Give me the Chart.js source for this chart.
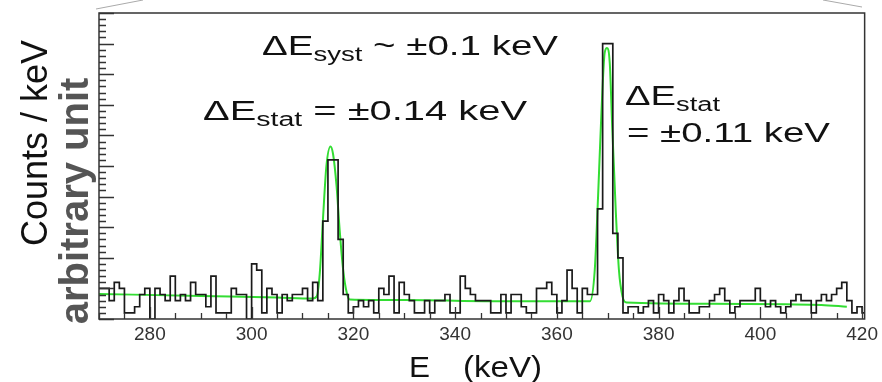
<!DOCTYPE html>
<html>
<head>
<meta charset="utf-8">
<script src="https://cdn.jsdelivr.net/npm/chart.js@4"></script>
<style>
  html, body { margin: 0; padding: 0; background: #fff; }
</style>
</head>
<body>
<canvas id="spectrum" width="882" height="382"></canvas>
<script>
// histogram, 1 keV bins starting at 270 keV
const binStart = 270;
const binWidth = 1;
const counts = [
    5, 5, 3, 6, 5, 1, 1, 2, 4, 5,
    0, 5, 4, 3, 7, 3, 4, 3, 6, 4,
    4, 2, 7, 1, 1, 1, 5, 4, 4, 0,
    9, 8, 1, 5, 4, 1, 4, 3, 4, 4,
    5, 3, 6, 3, 16, 26, 26, 13, 4, 1,
    2, 3, 2, 3, 1, 5, 4, 7, 1, 6,
    4, 3, 1, 1, 3, 1, 3, 3, 4, 1,
    1, 7, 5, 4, 3, 3, 3, 1, 1, 4,
    1, 4, 4, 2, 1, 1, 5, 5, 6, 4,
    1, 3, 8, 5, 1, 5, 4, 4, 18, 45,
    45, 14, 10, 1, 2, 2, 1, 2, 3, 1,
    4, 3, 1, 3, 5, 3, 1, 1, 2, 2,
    3, 4, 5, 3, 1, 2, 3, 3, 3, 5,
    3, 2, 3, 2, 1, 2, 3, 4, 3, 3,
    1, 3, 4, 3, 4, 5, 6, 3, 1, 2, 1
];

// fit curve (two gaussians on a sloping background)
const fitE = [270, 290, 305, 312, 312.8, 313.4, 314.07, 314.7, 315.5, 316.0, 316.7, 317.3, 318.0, 318.7, 319.3,
              330, 350, 366.5, 367.45, 368.1, 368.76, 369.4, 369.86, 370.4, 370.9, 371.6, 372.2, 372.9, 373.7,
              390, 405, 412, 417];
const fitY = [4.1, 3.75, 3.5, 3.35, 3.7, 7.5, 17, 25, 28.2, 27, 21.7, 14.6, 8, 4.3, 3.2,
              3.1, 2.9, 2.9, 8, 20, 33.7, 43.5, 44.3, 41.8, 31, 17.3, 8, 3.7, 2.7,
              2.5, 2.4, 2.3, 2.0];

const xTicks = [280, 300, 320, 340, 360, 380, 400, 420];
const xMinorStep = 5;
const yMajorStep = 5;
const yMinorStep = 1;

const FONT = '"Liberation Sans", Arial, sans-serif';

// text drawn with a horizontal stretch so it spans a given width
function drawStretched(ctx, parts, x, y, width) {
    ctx.save();
    let total = 0;
    parts.forEach(p => {
        ctx.font = p[1] + 'px ' + FONT;
        total += ctx.measureText(p[0]).width;
    });
    ctx.translate(x, y);
    ctx.scale(width / total, 1);
    let cx = 0;
    parts.forEach(p => {
        ctx.font = p[1] + 'px ' + FONT;
        ctx.fillText(p[0], cx, p[2] || 0);
        cx += ctx.measureText(p[0]).width;
    });
    ctx.restore();
}

const decorations = {
    id: 'decorations',
    afterDatasetsDraw(chart) {
        const ctx = chart.ctx;
        const area = chart.chartArea;
        const xs = chart.scales.x;
        const ys = chart.scales.y;

        ctx.save();
        // frame
        ctx.strokeStyle = '#333';
        ctx.lineWidth = 1.5;
        ctx.strokeRect(area.left, area.top, area.right - area.left, area.bottom - area.top);

        // y ticks, inside on the left
        ctx.lineWidth = 1.3;
        ctx.beginPath();
        for (let v = ys.min; v <= ys.max; v += yMinorStep) {
            const py = Math.round(ys.getPixelForValue(v)) + 0.5;
            const len = v % yMajorStep === 0 ? 15 : 7;
            ctx.moveTo(area.left, py);
            ctx.lineTo(area.left + len, py);
        }
        // x ticks, inside at the bottom
        for (let v = xTicks[0] - 10; v <= xs.max; v += xMinorStep) {
            if (v < xs.min) continue;
            const px = Math.round(xs.getPixelForValue(v)) + 0.5;
            const len = xTicks.includes(v) ? 12 : 6;
            ctx.moveTo(px, area.bottom);
            ctx.lineTo(px, area.bottom - len);
        }
        ctx.stroke();

        // slide zoom lines at the top corners
        ctx.strokeStyle = '#aaa';
        ctx.lineWidth = 1;
        ctx.beginPath();
        ctx.moveTo(96, 9);
        ctx.lineTo(143, 0);
        ctx.moveTo(823, 0);
        ctx.lineTo(862, 7);
        ctx.stroke();

        // annotations
        ctx.fillStyle = '#111';
        ctx.textBaseline = 'alphabetic';
        drawStretched(ctx, [['ΔE', 28], ['syst', 20, 6], [' ~ ±0.1 keV', 28]], 262, 55, 296);
        drawStretched(ctx, [['ΔE', 28], ['stat', 20, 6], [' = ±0.14 keV', 28]], 203, 120, 324);
        drawStretched(ctx, [['ΔE', 28], ['stat', 20, 6]], 625, 105, 95);
        drawStretched(ctx, [['= ±0.11 keV', 28]], 627, 142, 203);

        // x axis title
        drawStretched(ctx, [['E', 29]], 409, 377, 21);
        drawStretched(ctx, [['(keV)', 29]], 463, 377, 79);

        // y axis titles
        ctx.save();
        ctx.translate(47, 143);
        ctx.rotate(-Math.PI / 2);
        ctx.textAlign = 'center';
        ctx.font = '36px ' + FONT;
        ctx.fillStyle = '#111';
        ctx.fillText('Counts / keV', 0, 0);
        ctx.restore();

        ctx.save();
        ctx.translate(88, 201);
        ctx.rotate(-Math.PI / 2);
        ctx.textAlign = 'center';
        ctx.font = 'bold 40px ' + FONT;
        ctx.fillStyle = '#555';
        ctx.fillText('arbitrary unit', 0, 0);
        ctx.restore();

        ctx.restore();
    }
};

const histPoints = counts.map((c, i) => ({ x: binStart + i * binWidth, y: c }));
histPoints.push({ x: binStart + counts.length * binWidth, y: counts[counts.length - 1] });
const fitPoints = fitE.map((e, i) => ({ x: e, y: fitY[i] }));

new Chart(document.getElementById('spectrum'), {
    type: 'line',
    data: {
        datasets: [{
            label: 'data',
            data: histPoints,
            stepped: true,
            borderColor: '#1a1a1a',
            borderWidth: 1.7,
            pointRadius: 0,
            fill: false
        }, {
            label: 'fit',
            data: fitPoints,
            cubicInterpolationMode: 'monotone',
            borderColor: '#33dd33',
            borderWidth: 2,
            pointRadius: 0,
            fill: false
        }]
    },
    options: {
        responsive: false,
        animation: false,
        layout: { padding: { left: 99, right: 17, top: 13, bottom: 0 } },
        plugins: {
            legend: { display: false },
            tooltip: { enabled: false }
        },
        scales: {
            x: {
                type: 'linear',
                min: 270,
                max: 420.5,
                grid: { display: false, drawTicks: false },
                border: { display: false },
                ticks: {
                    font: { size: 19, family: FONT },
                    color: '#333',
                    padding: 4,
                    maxRotation: 0,
                    autoSkip: false,
                    includeBounds: false
                },
                afterBuildTicks: scale => { scale.ticks = xTicks.map(v => ({ value: v })); },
                afterFit: scale => { scale.height = 63; }
            },
            y: {
                type: 'linear',
                min: 0,
                max: 50,
                display: false
            }
        }
    },
    plugins: [decorations]
});
</script>
</body>
</html>
